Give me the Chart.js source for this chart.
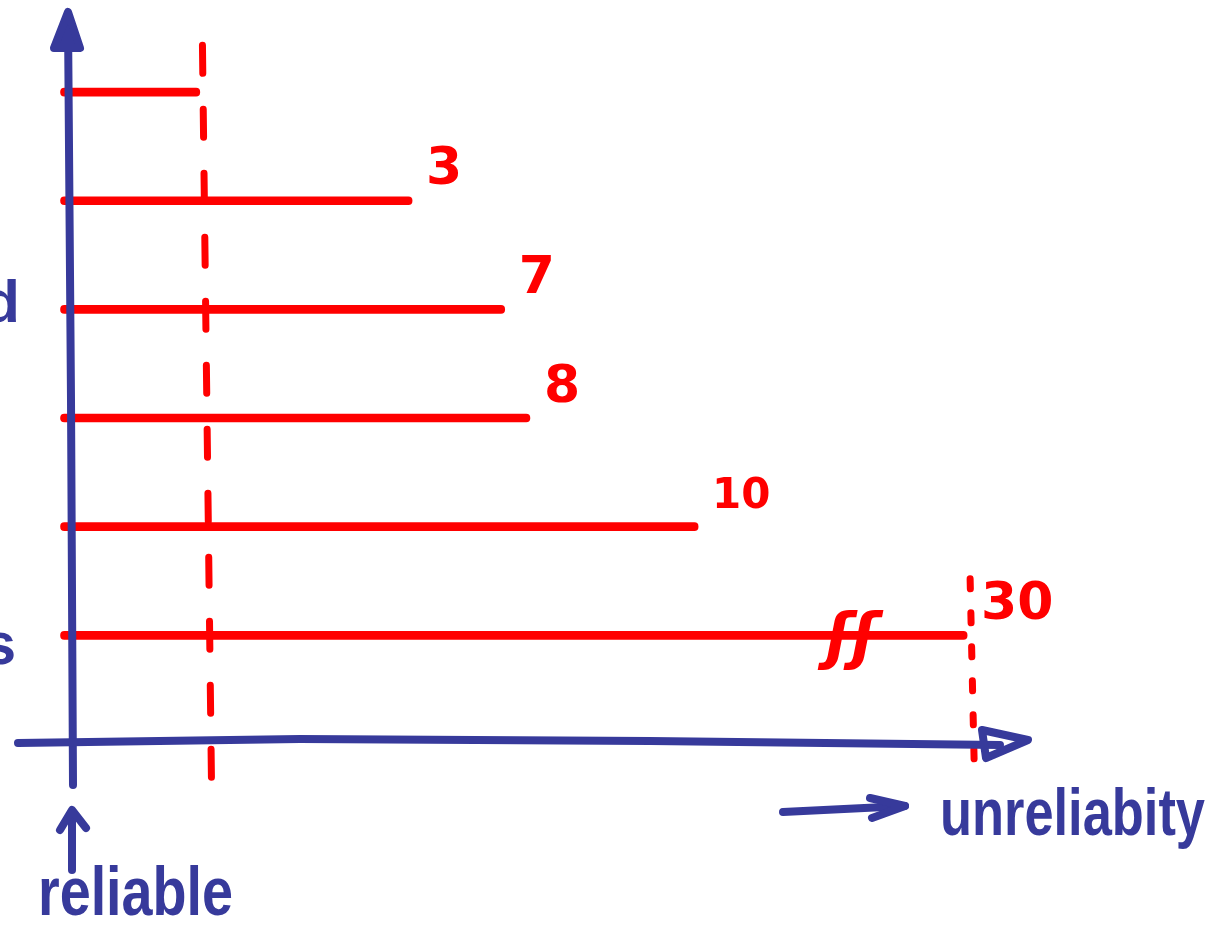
<!DOCTYPE html>
<html>
<head>
<meta charset="utf-8">
<script src="https://cdn.jsdelivr.net/npm/chart.js@4.4.1/dist/chart.umd.min.js"></script>
<style>
  html, body { margin: 0; padding: 0; background: #fff; }
  #wrap { width: 1216px; height: 927px; position: relative; }
</style>
</head>
<body>
<div id="wrap"><canvas id="sketch"></canvas></div>
<script>
// bar lengths as drawn (sketch units, the "10" bar is 10 long), labels as written
var barLengths = [2.06, 5.43, 6.9, 7.3, 9.97, 14.24];
var barLabels = ["", "3", "7", "8", "10", "30"];
var thresholdValue = 2.15;   // dashed red line
var breakValue = 12.4;       // where the break mark sits on the long bar
var xTitle = "unreliabity";
var yTitle = "reliable";

var RED = "#ff0000";
var BLUE = "#373a9b";

var rows = barLengths.map(function (v, i) { return { x: v, y: i + 1 }; });

function line(ctx, pts) {
  ctx.beginPath();
  ctx.moveTo(pts[0][0], pts[0][1]);
  for (var i = 1; i < pts.length; i++) ctx.lineTo(pts[i][0], pts[i][1]);
  ctx.stroke();
}

var sketchPlugin = {
  id: "sketch",
  afterDatasetsDraw: function (chart) {
    var ctx = chart.ctx;
    var xs = chart.scales.x, ys = chart.scales.y;
    var x0 = xs.getPixelForValue(0);
    var yAxis = ys.getPixelForValue(7);
    ctx.save();
    ctx.lineCap = "round";
    ctx.lineJoin = "round";

    // threshold dashed line
    ctx.strokeStyle = RED;
    ctx.lineWidth = 7;
    ctx.setLineDash([28, 36]);
    var tx = xs.getPixelForValue(thresholdValue);
    line(ctx, [[tx - 3, ys.getPixelForValue(0.57)], [tx + 6, ys.getPixelForValue(7.33)]]);

    // dotted line under the long bar
    var lx = xs.getPixelForValue(barLengths[5]) + 3;
    ctx.setLineDash([10, 24]);
    line(ctx, [[lx, ys.getPixelForValue(5.48)], [lx + 4, ys.getPixelForValue(7.15)]]);
    ctx.setLineDash([]);

    // value labels
    ctx.fillStyle = RED;
    ctx.textBaseline = "middle";
    ctx.textAlign = "left";
    barLabels.forEach(function (t, i) {
      if (!t) return;
      var size = t === "10" ? 42 : 52;
      ctx.font = "bold " + size + "px 'DejaVu Sans', sans-serif";
      ctx.fillText(t, xs.getPixelForValue(barLengths[i]) + 14, ys.getPixelForValue(i + 1) - 30);
    });

    // break mark on the long bar
    ctx.font = "bold italic 62px 'DejaVu Sans', sans-serif";
    ctx.textAlign = "center";
    ctx.fillText("ʃʃ", xs.getPixelForValue(breakValue), ys.getPixelForValue(6) + 6);

    // blue axes
    ctx.strokeStyle = BLUE;
    ctx.fillStyle = BLUE;
    ctx.lineWidth = 8;
    line(ctx, [[x0 + 3, 785], [x0 + 1, 400], [x0 - 2, 20]]);
    ctx.beginPath();
    ctx.moveTo(x0 - 16, 48); ctx.lineTo(x0 - 2, 12); ctx.lineTo(x0 + 10, 48); ctx.closePath();
    ctx.fill(); ctx.stroke();

    line(ctx, [[18, yAxis - 1], [300, yAxis - 5], [650, yAxis - 3], [1000, yAxis + 1]]);
    ctx.beginPath();
    ctx.moveTo(982, yAxis - 14); ctx.lineTo(1028, yAxis - 4); ctx.lineTo(986, yAxis + 14); ctx.closePath();
    ctx.stroke();

    // unreliability arrow + title
    line(ctx, [[783, 812], [905, 806]]);
    line(ctx, [[870, 798], [905, 806], [872, 818]]);
    ctx.textAlign = "left";
    ctx.textBaseline = "alphabetic";
    ctx.font = "bold 66px 'Liberation Sans Narrow', 'Liberation Sans', sans-serif";
    ctx.fillText(xTitle, 940, 835, 265);

    // reliable arrow + title
    line(ctx, [[72, 870], [72, 812]]);
    line(ctx, [[60, 830], [72, 810], [86, 828]]);
    ctx.font = "bold 68px 'Liberation Sans Narrow', 'Liberation Sans', sans-serif";
    ctx.fillText(yTitle, 38, 915, 195);

    // cut-off words at the left edge
    ctx.textAlign = "right";
    ctx.font = "bold 60px 'Liberation Sans', sans-serif";
    ctx.fillText("d", 20, 322);
    ctx.fillText("s", 16, 664);
    ctx.restore();
  }
};

var ctx = document.getElementById("sketch").getContext("2d");
new Chart(ctx, {
  type: "bar",
  data: {
    datasets: [{
      data: rows,
      base: -0.15,
      clip: false,
      backgroundColor: RED,
      barThickness: 8,
      borderRadius: 4,
      borderSkipped: false
    }]
  },
  options: {
    indexAxis: "y",
    responsive: true,
    maintainAspectRatio: false,
    animation: false,
    layout: { padding: { left: 70, right: 138, top: 16, bottom: 183 } },
    scales: {
      x: { type: "linear", min: 0, max: 16, display: false },
      y: { type: "linear", min: 0.3, max: 7, reverse: true, offset: false, display: false }
    },
    plugins: {
      legend: { display: false },
      tooltip: { enabled: false }
    }
  },
  plugins: [sketchPlugin]
});
</script>
</body>
</html>
